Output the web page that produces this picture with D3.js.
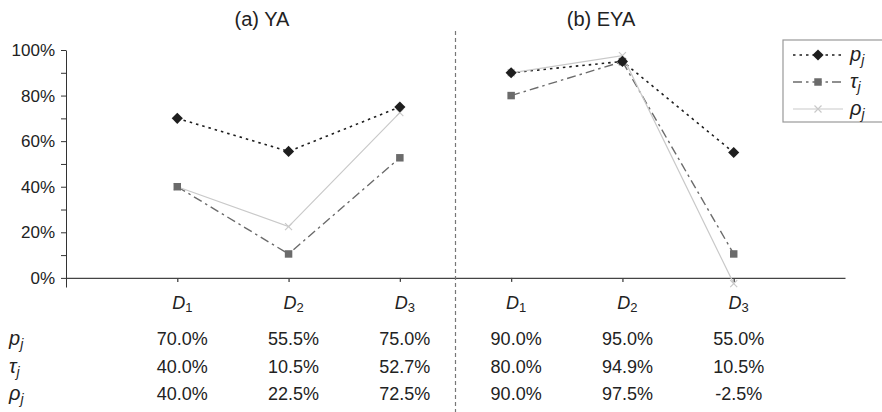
<!DOCTYPE html>
<html>
<head>
<meta charset="utf-8">
<script src="https://cdn.jsdelivr.net/npm/d3@7"></script>
<style>
  body { margin: 0; background: #fff; }
  text { font-family: "Liberation Sans", Arial, sans-serif; fill: #222; }
</style>
</head>
<body>
<div id="chart"></div>
<script>
// categories: 3 per panel, drawn at positions 1..6
const panels = ["(a) YA", "(b) EYA"];
const categories = ["1", "2", "3", "1", "2", "3"];
const pj = [0.70, 0.555, 0.75, 0.90, 0.95, 0.55];
const tauj = [0.40, 0.105, 0.527, 0.80, 0.949, 0.105];
const rhoj = [0.40, 0.225, 0.725, 0.90, 0.975, -0.025];
const yTicks = [0, 0.1, 0.2, 0.3, 0.4, 0.5, 0.6, 0.7, 0.8, 0.9, 1.0];

const w = 882, h = 412;
const svg = d3.select("#chart").append("svg").attr("width", w).attr("height", h);

const x = d3.scaleLinear().domain([0, 7]).range([66, 845]);
const y = d3.scaleLinear().domain([-0.04, 1]).range([287, 50]);

const series = [
  { name: "p", sym: "p", values: pj, color: "#1e1e1e", dash: "2.5,4", width: 1.6, marker: "diamond" },
  { name: "tau", sym: "τ", values: tauj, color: "#6b6b6b", dash: "9,4,2.5,4", width: 1.4, marker: "square" },
  { name: "rho", sym: "ρ", values: rhoj, color: "#c9c9c9", dash: null, width: 1.2, marker: "cross" }
];

// y axis
const yAxis = d3.axisLeft(y)
  .tickValues(yTicks)
  .tickSize(5)
  .tickSizeOuter(0)
  .tickFormat((d) => (Math.round(d * 100) % 20 === 0 ? Math.round(d * 100) + "%" : ""));
const gy = svg.append("g").attr("transform", `translate(${x(0)},0)`).call(yAxis);
gy.selectAll("path, line").attr("stroke", "#333");
gy.selectAll("text").style("font-size", "17px").attr("x", -11).attr("fill", "#222");

// x axis at 0%
const xAxis = d3.axisBottom(x).tickValues([1, 2, 3, 4, 5, 6]).tickSize(4).tickSizeOuter(0).tickFormat("");
const gx = svg.append("g").attr("transform", `translate(0,${y(0)})`).call(xAxis);
gx.selectAll("path, line").attr("stroke", "#444").attr("stroke-width", 1.3);

// divider
svg.append("line")
  .attr("x1", (x(3) + x(4)) / 2).attr("x2", (x(3) + x(4)) / 2)
  .attr("y1", 31).attr("y2", 412)
  .attr("stroke", "#777").attr("stroke-width", 1.2).attr("stroke-dasharray", "4,3");

// panel titles
svg.selectAll(".ptitle").data(panels).enter().append("text")
  .attr("x", (d, i) => (i === 0 ? 262 : 601))
  .attr("y", 26)
  .attr("text-anchor", "middle")
  .style("font-size", "20px")
  .text((d) => d);

// lines, one per panel
const line = d3.line().x((d) => x(d.i + 1)).y((d) => y(d.v));

function drawMarker(g, s, cx, cy) {
  if (s.marker === "diamond") {
    g.append("path").attr("d", d3.symbol(d3.symbolSquare, 62)())
      .attr("transform", `translate(${cx},${cy}) rotate(45)`).attr("fill", s.color);
  } else if (s.marker === "square") {
    g.append("path").attr("d", d3.symbol(d3.symbolSquare, 56)())
      .attr("transform", `translate(${cx},${cy})`).attr("fill", s.color);
  } else {
    g.append("path").attr("d", "M-3.5,-3.5L3.5,3.5M-3.5,3.5L3.5,-3.5")
      .attr("transform", `translate(${cx},${cy})`)
      .attr("stroke", s.color).attr("stroke-width", 1.2).attr("fill", "none");
  }
}

series.forEach((s) => {
  const pts = s.values.map((v, i) => ({ v, i }));
  [pts.slice(0, 3), pts.slice(3, 6)].forEach((part) => {
    svg.append("path").datum(part)
      .attr("d", line)
      .attr("fill", "none")
      .attr("stroke", s.color)
      .attr("stroke-width", s.width)
      .attr("stroke-dasharray", s.dash);
  });
});
[...series].reverse().forEach((s) => {
  const g = svg.append("g");
  s.values.forEach((v, i) => drawMarker(g, s, x(i + 1), y(v)));
});

// legend
const lg = svg.append("g");
lg.append("rect").attr("x", 783).attr("y", 40).attr("width", 110).attr("height", 82)
  .attr("fill", "#fff").attr("stroke", "#999").attr("stroke-width", 1.2);
series.forEach((s, i) => {
  const ly = 55 + i * 27;
  lg.append("line").attr("x1", 793).attr("x2", 843).attr("y1", ly).attr("y2", ly)
    .attr("stroke", s.color).attr("stroke-width", s.width).attr("stroke-dasharray", s.dash);
  drawMarker(lg, s, 818, ly);
  const t = lg.append("text").attr("x", 850).attr("y", ly + 6).style("font-size", "20px");
  t.append("tspan").style("font-style", "italic").text(s.sym);
  t.append("tspan").style("font-style", "italic").style("font-size", "14px").attr("dy", 4).text("j");
});

// category labels
categories.forEach((c, i) => {
  const t = svg.append("text").attr("x", x(i + 1) + 5).attr("y", 309)
    .attr("text-anchor", "middle").style("font-size", "18px");
  t.append("tspan").style("font-style", "italic").text("D");
  t.append("tspan").style("font-size", "13px").attr("dy", 3).text(c);
});

// table
const fmt = d3.formatLocale({ decimal: ".", thousands: ",", grouping: [3], currency: ["", ""], minus: "-" }).format(".1%");
series.forEach((s, r) => {
  const ty = 345 + r * 27.5;
  const lab = svg.append("text").attr("x", 9).attr("y", ty).style("font-size", "20px");
  lab.append("tspan").style("font-style", "italic").text(s.sym);
  lab.append("tspan").style("font-style", "italic").style("font-size", "14px").attr("dy", 4).text("j");
  s.values.forEach((v, i) => {
    svg.append("text").attr("x", x(i + 1) + 5).attr("y", ty)
      .attr("text-anchor", "middle").style("font-size", "18px")
      .text(fmt(v));
  });
});
</script>
</body>
</html>
